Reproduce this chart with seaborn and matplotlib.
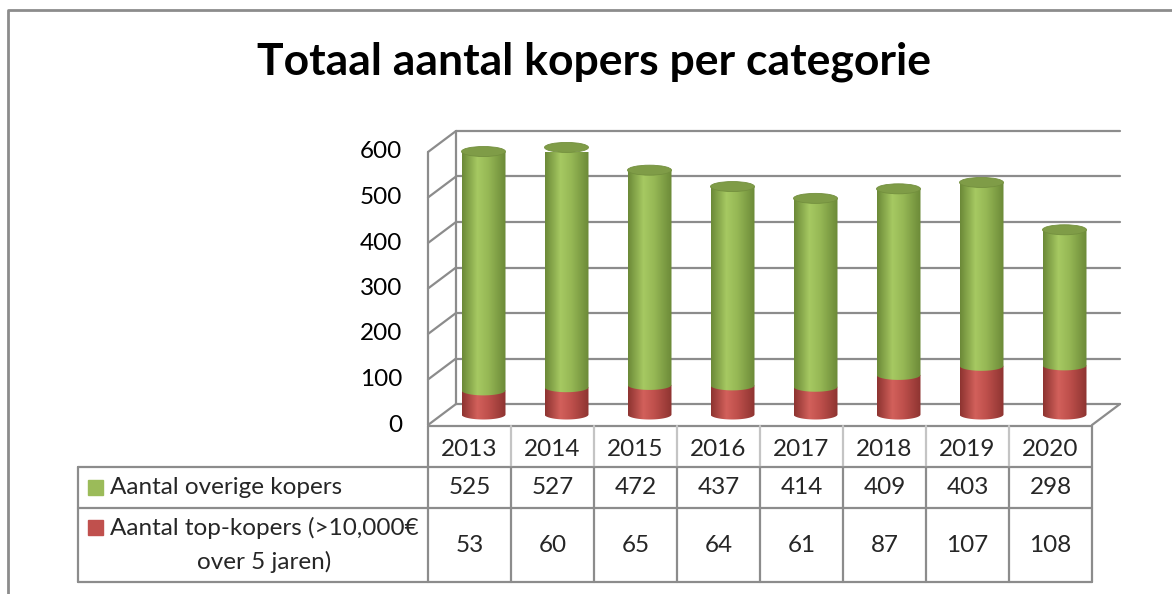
import matplotlib.pyplot as plt
import matplotlib.transforms as mtransforms
from matplotlib.path import Path
from matplotlib.patches import PathPatch, Ellipse, Rectangle
from matplotlib.colors import LinearSegmentedColormap
import seaborn as sns
import numpy as np
import pandas as pd

# data
years = ["2013", "2014", "2015", "2016", "2017", "2018", "2019", "2020"]
overige = [525, 527, 472, 437, 414, 409, 403, 298]
top_kopers = [53, 60, 65, 64, 61, 87, 107, 108]
yticks = [0, 100, 200, 300, 400, 500, 600]
label_overige = "Aantal overige kopers"
label_top = "Aantal top-kopers (>10,000€\nover 5 jaren)"

df = pd.DataFrame({"jaar": years, "overige": overige, "top": top_kopers})
df["totaal"] = df["overige"] + df["top"]

sns.set_style("white")
plt.rcParams["font.family"] = ["Lato", "DejaVu Sans"]

W, H = 1172, 594
fig = plt.figure(figsize=(W / 100, H / 100), dpi=100)

def px(x, y):
    # image pixel -> figure fraction
    return x / W, 1 - y / H

# front plane of the 3d box: x 428..1092, y(0)=425, y(600)=152
ax_l, ax_r, ax_b, ax_t = 428, 1092, 425, 152
ax = fig.add_axes([ax_l / W, 1 - ax_b / H, (ax_r - ax_l) / W, (ax_b - ax_t) / H])

grid_c = "#8c8c8c"
depth = mtransforms.ScaledTranslation(28 / 100, 21 / 100, fig.dpi_scale_trans)
mid = mtransforms.ScaledTranslation(14 / 100, 10.5 / 100, fig.dpi_scale_trans)

# bars with seaborn (flat base, shading is painted on top)
bw = 0.53
sns.barplot(data=df, x="jaar", y="totaal", color="#9bbb59", width=bw, ax=ax,
            saturation=1, zorder=3)
sns.barplot(data=df, x="jaar", y="top", color="#c0504d", width=bw, ax=ax,
            saturation=1, zorder=3)
ax.set_xlim(-0.5, 7.5)
ax.set_ylim(0, 600)
ax.axis("off")
bars = [p for p in ax.patches if isinstance(p, Rectangle)]
for p in bars:
    p.set_transform(ax.transData + mid)
    p.set_visible(False)

# back wall gridlines + left wall diagonals
for t in yticks:
    ax.plot([-0.5, 7.5], [t, t], color=grid_c, lw=1.6, transform=ax.transData + depth,
            clip_on=False, zorder=1)
    x0, y0 = ax.transData.transform((-0.5, t))
    fig.add_artist(plt.Line2D([x0 / W, (x0 + 28) / W], [y0 / H, (y0 + 21) / H],
                              color=grid_c, lw=1.6, transform=fig.transFigure))
ax.plot([-0.5, -0.5], [0, 600], color=grid_c, lw=1.6, transform=ax.transData + depth,
        clip_on=False, zorder=1)
ax.plot([-0.5, -0.5], [0, 600], color=grid_c, lw=1.6, clip_on=False, zorder=1)
# floor right edge
x0, y0 = ax.transData.transform((7.5, 0))
fig.add_artist(plt.Line2D([x0 / W, (x0 + 28) / W], [y0 / H, (y0 + 21) / H],
                          color=grid_c, lw=1.6, transform=fig.transFigure))

fs = 17.5

# y tick labels
for t in yticks:
    fig.text(402 / W, 1 - (ax_b - t * (ax_b - ax_t) / 600) / H, str(t), ha="right",
             va="center", fontsize=fs, color="black")

eh = 10 / ((ax_b - ax_t) / 600)  # ellipse height in data units (10 px)

def cyl_path(xc, w, y0, y1, n=40):
    th = np.linspace(np.pi, 2 * np.pi, n)
    xs = list(xc + w / 2 * np.cos(th))
    ys = list(y0 + eh / 2 * np.sin(th))
    verts = [(xc - w / 2, y1)] + list(zip(xs, ys)) + [(xc + w / 2, y1), (xc - w / 2, y1)]
    return Path(verts, closed=True)

def shade(col_edge, col_mid, col_hi):
    return LinearSegmentedColormap.from_list(
        "c", [(0, col_edge), (0.35, col_hi), (0.6, col_mid), (1, col_edge)])

grad = np.linspace(0, 1, 64)[None, :]
green_cm = shade("#6c8a38", "#96b855", "#a6c962")
red_cm = shade("#8e3431", "#bf504c", "#d2605b")

tr = ax.transData + mid
n = len(years)
for i, p in enumerate(bars[:n]):
    xc = p.get_x() + p.get_width() / 2
    tot = p.get_height()
    tp = bars[n + i].get_height()
    for (y0, y1, cm) in [(0, tp, red_cm), (tp, tot, green_cm)]:
        pp = PathPatch(cyl_path(xc, bw, y0, y1), facecolor="none", edgecolor="none",
                       transform=tr)
        ax.add_patch(pp)
        pp.set_clip_on(False)
        im = ax.imshow(grad, cmap=cm, aspect="auto",
                       extent=[xc - bw / 2, xc + bw / 2, y0 - eh, y1], zorder=4,
                       interpolation="bilinear")
        im.set_transform(tr)
        im.set_clip_path(pp)
    cap = Ellipse((xc, tot), bw, eh, facecolor="#7f9c47", edgecolor="#738f3e", lw=0.6,
                  transform=tr, zorder=5, clip_on=False)
    ax.add_patch(cap)
ax.set_xlim(-0.5, 7.5)
ax.set_ylim(0, 600)

# data table
tab_c = "#8c8c8c"
light_c = "#c4c4c4"
col_x = [ax_l + i * (ax_r - ax_l) / n for i in range(n + 1)]
row_y = [426, 467, 508, 582]
tab_l = 78

def hline(x0, x1, y, c=tab_c, lw=1.6):
    fig.add_artist(plt.Line2D([x0 / W, x1 / W], [1 - y / H, 1 - y / H], color=c, lw=lw))

def vline(x, y0, y1, c=tab_c, lw=1.6):
    fig.add_artist(plt.Line2D([x / W, x / W], [1 - y0 / H, 1 - y1 / H], color=c, lw=lw))

hline(ax_l, ax_r, row_y[0])
hline(tab_l, ax_r, row_y[1])
hline(tab_l, ax_r, row_y[2])
hline(tab_l, ax_r, row_y[3])
vline(tab_l, row_y[1], row_y[3])
for i, x in enumerate(col_x):
    if i in (0, n):
        vline(x, row_y[0], row_y[3])
    else:
        vline(x, row_y[0], row_y[1], c=light_c)
        vline(x, row_y[1], row_y[3])

for i in range(n):
    xc = (col_x[i] + col_x[i + 1]) / 2
    fig.text(xc / W, 1 - 450 / H, years[i], ha="center", va="center", fontsize=fs)
    fig.text(xc / W, 1 - 488 / H, str(overige[i]), ha="center", va="center", fontsize=fs)
    fig.text(xc / W, 1 - 546 / H, str(top_kopers[i]), ha="center", va="center", fontsize=fs)

# legend keys inside the table
fig.add_artist(Rectangle(px(88, 495), 15 / W, 15 / H, color="#9bbb59",
                         transform=fig.transFigure))
fig.add_artist(Rectangle(px(88, 535), 15 / W, 15 / H, color="#c0504d",
                         transform=fig.transFigure))
fig.text(110 / W, 1 - 488 / H, label_overige, ha="left", va="center", fontsize=fs)
l1, l2 = label_top.split("\n")
fig.text(110 / W, 1 - 528 / H, l1, ha="left", va="center", fontsize=fs)
fig.text(264 / W, 1 - 562 / H, l2, ha="center", va="center", fontsize=fs)

# title
fig.text(594 / W, 1 - 62 / H, "Totaal aantal kopers per categorie", ha="center",
         va="center", fontsize=32, fontweight="bold", color="black")

# outer chart frame
fig.add_artist(plt.Line2D([8 / W, 8 / W, 1], [0, 1 - 10 / H, 1 - 10 / H], color="#8c8c8c",
                          lw=2, transform=fig.transFigure))

fig.savefig("out.png", dpi=100)
